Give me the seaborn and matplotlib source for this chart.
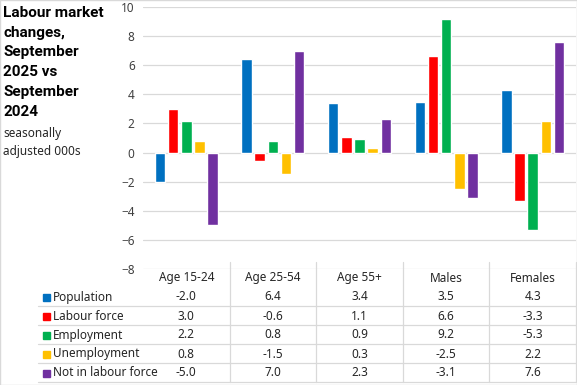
import pandas as pd
import matplotlib.pyplot as plt
import matplotlib.transforms as mtransforms
from matplotlib.lines import Line2D
from matplotlib.patches import Rectangle
import seaborn as sns

groups = ['Age 15-24', 'Age 25-54', 'Age 55+', 'Males', 'Females']
series = ['Population', 'Labour force', 'Employment', 'Unemployment', 'Not in labour force']
population = [-2.0, 6.4, 3.4, 3.5, 4.3]
labour_force = [3.0, -0.6, 1.1, 6.6, -3.3]
employment = [2.2, 0.8, 0.9, 9.2, -5.3]
unemployment = [0.8, -1.5, 0.3, -2.5, 2.2]
not_in_lf = [-5.0, 7.0, 2.3, -3.1, 7.6]
colors = ['#0070C0', '#FF0000', '#00B050', '#FFC000', '#7030A0']

values = [population, labour_force, employment, unemployment, not_in_lf]
rows = []
for s, vals in zip(series, values):
    for g, v in zip(groups, vals):
        rows.append({'group': g, 'series': s, 'value': v})
df = pd.DataFrame(rows)

sns.set_style('white')
plt.rcParams['font.family'] = ['Noto Sans', 'DejaVu Sans']

W, H = 577, 385
fig = plt.figure(figsize=(W / 100, H / 100), dpi=100)
ax = fig.add_axes([143 / W, 1 - 269 / H, (576 - 143) / W, (269 - 7) / H])

sns.barplot(data=df, x='group', y='value', hue='series', hue_order=series,
            order=groups, palette=colors, width=0.76, gap=0.2, legend=False,
            saturation=1, ax=ax, zorder=3)

ax.set_ylim(-8, 10)
ax.set_xlim(-0.5, len(groups) - 0.5)
ax.set_yticks(range(-8, 11, 2))
ax.yaxis.grid(True, color='#D9D9D9', lw=0.9, zorder=0)
ax.set_axisbelow(True)
for sp in ax.spines.values():
    sp.set_visible(False)
ax.set_xticks([])
ax.set_xlabel('')
ax.set_ylabel('')
ax.tick_params(axis='y', length=0, labelsize=8.5, labelcolor='#404040', pad=6)

# data table below the plot
trans = mtransforms.blended_transform_factory(ax.transData, fig.transFigure)
fy = lambda p: 1 - p / H
line_kw = dict(color='#D9D9D9', lw=0.9)
for yp in [306, 325, 344, 363, 382]:
    fig.add_artist(Line2D([38 / W, 576 / W], [fy(yp), fy(yp)], **line_kw))
for i in range(1, len(groups) + 1):
    fig.add_artist(Line2D([i - 0.5, i - 0.5], [fy(262), fy(382)], transform=trans, **line_kw))

tcol = '#262626'
for i, g in enumerate(groups):
    fig.text(i, fy(278), g, transform=trans, ha='center', va='center',
             fontsize=8.5, color=tcol)
for r, (s, vals, c) in enumerate(zip(series, values, colors)):
    yc = 297 + 19 * r
    fig.add_artist(Rectangle((43 / W, fy(yc + 3.5)), 7 / W, 7 / H, color=c,
                             transform=fig.transFigure))
    fig.text(53 / W, fy(yc), s, ha='left', va='center', fontsize=8.5, color=tcol)
    for i, v in enumerate(vals):
        fig.text(i, fy(yc), f'{v:.1f}', transform=trans, ha='center', va='center',
                 fontsize=8.5, color=tcol)

fig.text(3 / W, fy(6), 'Labour market\nchanges,\nSeptember\n2025 vs\nSeptember\n2024',
         ha='left', va='top', fontsize=11, fontweight='bold', color='black',
         family=['Roboto', 'DejaVu Sans'], linespacing=1.52)
fig.text(3 / W, fy(127), 'seasonally\nadjusted 000s', ha='left', va='top',
         fontsize=8.5, color=tcol, linespacing=1.45)

fig.add_artist(Rectangle((0, 0), 1, 1, fill=False, ec='#D9D9D9', lw=1,
                         transform=fig.transFigure))

fig.savefig('out.png', dpi=100)
